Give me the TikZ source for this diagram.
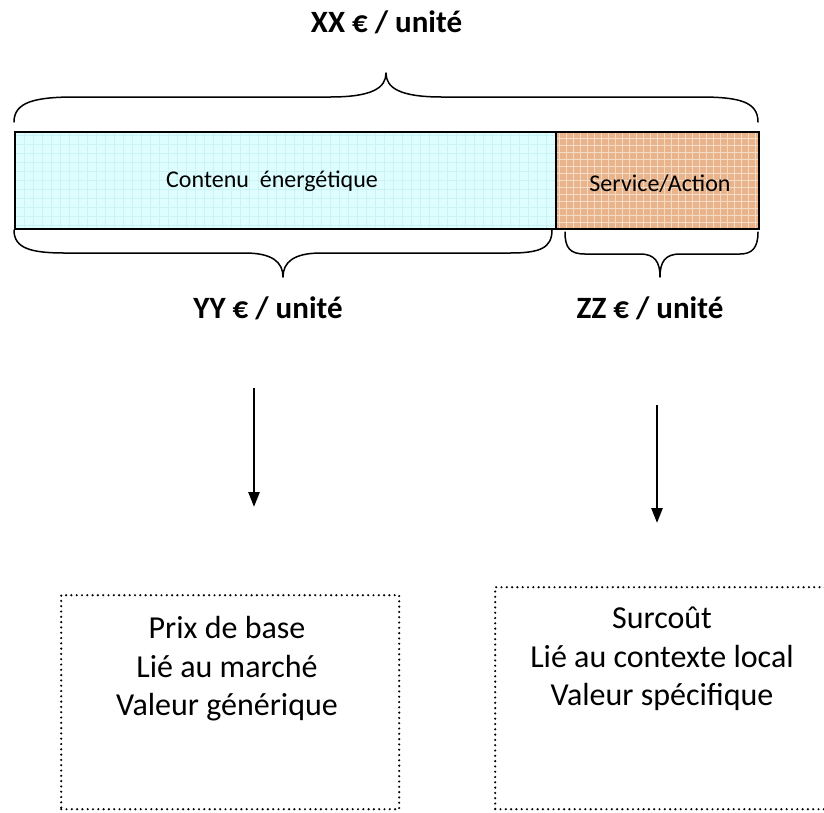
\documentclass[tikz,border=0pt]{standalone}
\usepackage{fontspec}
\setmainfont{Carlito}
\usetikzlibrary{arrows.meta}
\definecolor{cyanfill}{HTML}{DDFDFF}
\definecolor{cyangrid}{HTML}{CBF2F4}
\definecolor{orangefill}{HTML}{E9B38C}
\definecolor{orangegrid}{HTML}{F2DCC6}
\begin{document}
\begin{tikzpicture}[x=1pt,y=-1pt,
  brace/.style={line width=1.5pt, line join=round, line cap=round},
  barpart/.style={draw=black, line width=1.8pt, inner sep=0pt, anchor=north west},
  arr/.style={line width=2.6pt, -{Triangle[width=11pt,length=15pt]}},
  dotbox/.style={draw, line width=2.4pt, dash pattern=on 0pt off 5.3pt, line cap=round, inner sep=0pt, anchor=north west},
  lbl/.style={font=\bfseries\fontsize{31}{35}\selectfont, anchor=base, inner sep=0pt},
  bartxt/.style={font=\fontsize{24}{28}\selectfont, anchor=base, inner sep=0pt},
  boxtxt/.style={font=\fontsize{32}{38}\selectfont, anchor=base, inner sep=0pt}]
\clip (0,0) rectangle (824,812);
% bar
\node[barpart, fill=cyanfill, minimum width=541pt, minimum height=97pt,
  path picture={\draw[cyangrid, line width=0.5pt, step=9pt] (path picture bounding box.south west) grid (path picture bounding box.north east);}] (energy) at (14,131) {};
\node[barpart, fill=orangefill, minimum width=203pt, minimum height=97pt,
  path picture={\draw[orangegrid, line width=0.6pt, step=7pt] (path picture bounding box.south west) grid (path picture bounding box.north east);}] (service) at (555,131) {};
\node[bartxt] (energytxt) at (272,187) {Contenu\ \ énergétique};
\node[bartxt] (servicetxt) at (660,191) {Service/Action};
% braces
\draw[brace] (14,122) .. controls (14,102) and (35,97) .. (75,97) -- (330,97)
  .. controls (372,97) and (386,88) .. (386,73)
  .. controls (386,88) and (400,97) .. (442,97) -- (700,97)
  .. controls (740,97) and (758,102) .. (758,122);
\draw[brace] (14,230) .. controls (14,248) and (30,253) .. (65,253) -- (245,253)
  .. controls (272,253) and (283,262) .. (283,277)
  .. controls (283,262) and (294,253) .. (321,253) -- (510,253)
  .. controls (540,253) and (552,248) .. (552,230);
\draw[brace] (565,232) .. controls (565,248) and (570,254) .. (585,254) -- (640,254)
  .. controls (655,254) and (660,262) .. (660,277)
  .. controls (660,262) and (665,254) .. (680,254) -- (740,254)
  .. controls (752,254) and (758,248) .. (758,232);
% labels
\node[lbl] (xx) at (386.5,32) {XX € / unité};
\node[lbl] (yy) at (268,318) {YY € / unité};
\node[lbl] (zz) at (650,318) {ZZ € / unité};
% arrows
\coordinate (a1s) at (254,388);
\coordinate (a1e) at (254,507);
\coordinate (a2s) at (657,405);
\coordinate (a2e) at (657,523);
\draw[arr] (a1s) -- (a1e);
\draw[arr] (a2s) -- (a2e);
% boxes
\node[dotbox, minimum width=338pt, minimum height=214pt] (boxL) at (60,594) {};
\node[dotbox, minimum width=340pt, minimum height=222pt] (boxR) at (494,586) {};
\node[boxtxt] (l1) at (227,638) {Prix de base};
\node[boxtxt] (l2) at (227,677) {Lié au marché};
\node[boxtxt] (l3) at (227,715) {Valeur générique};
\node[boxtxt] (r1) at (662,628) {Surcoût};
\node[boxtxt] (r2) at (662,667) {Lié au contexte local};
\node[boxtxt] (r3) at (662,705) {Valeur spécifique};
\end{tikzpicture}
\end{document}
